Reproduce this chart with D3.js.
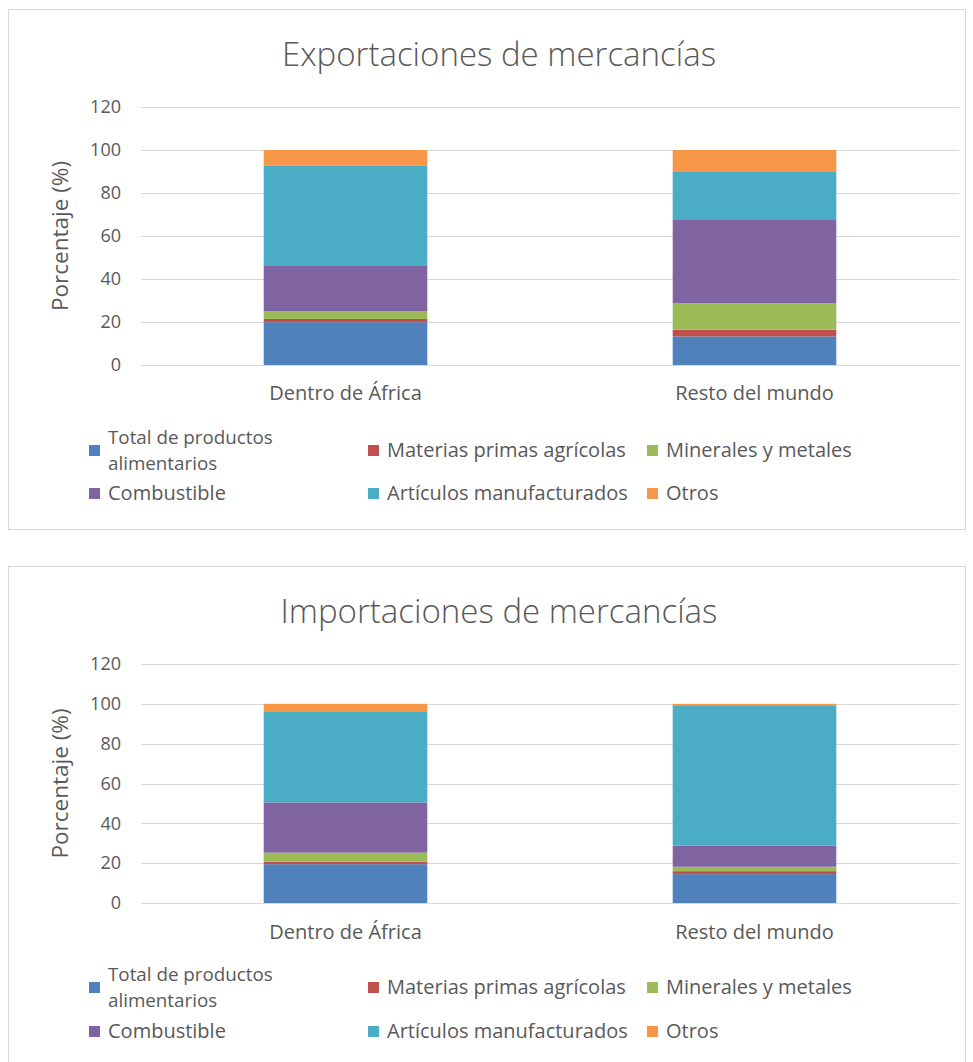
<!DOCTYPE html>
<html lang="es">
<head>
<meta charset="utf-8">
<title>Mercancías</title>
<script src="https://cdn.jsdelivr.net/npm/d3@7"></script>
<style>
  body { margin: 0; background: #fff; }
  svg text { font-family: "Open Sans", "Noto Sans", sans-serif; fill: #595959; }
</style>
</head>
<body>
<div id="chart"></div>
<script>
// categories and series
var categories = ["Dentro de África", "Resto del mundo"];
var seriesNames = ["Total de productos alimentarios", "Materias primas agrícolas", "Minerales y metales",
                   "Combustible", "Artículos manufacturados", "Otros"];
var colors = ["#4f81bd", "#c0504d", "#9bbb59", "#8064a2", "#4bacc6", "#f79646"];
var yTicks = [0, 20, 40, 60, 80, 100, 120];

// percentages per category, in series order
var exportDentro = [19.9, 1.5, 3.7, 21.3, 46.2, 7.4];
var exportResto  = [13.3, 3.1, 12.3, 39.1, 22.3, 9.9];
var importDentro = [19.5, 1.3, 4.5, 25.2, 45.8, 3.7];
var importResto  = [14.5, 1.5, 2.2, 10.6, 70.5, 0.7];

var W = 973, H = 1062;
var svg = d3.select("#chart").append("svg")
  .attr("width", W)
  .attr("height", H);

var charts = [
  {title: "Exportaciones de mercancías", rows: [exportDentro, exportResto],
   boxTop: 9, boxBottom: 529, yTop: 107, yBottom: 365, catY: 393, legY: [450, 493]},
  {title: "Importaciones de mercancías", rows: [importDentro, importResto],
   boxTop: 566, boxBottom: 1090, yTop: 664, yBottom: 903, catY: 932, legY: [987, 1031]}
];

var legendCols = [89, 368, 647];

charts.forEach(function(c) {
  var g = svg.append("g");

  g.append("rect")
    .attr("x", 8.5).attr("y", c.boxTop + 0.5)
    .attr("width", 957).attr("height", c.boxBottom - c.boxTop)
    .style("fill", "#fff")
    .style("stroke", "#d9d9d9")
    .style("stroke-width", 1);

  g.append("text")
    .attr("x", 499)
    .attr("y", c.boxTop + 45)
    .attr("dy", "0.35em")
    .attr("text-anchor", "middle")
    .style("font-size", "33px")
    .style("font-weight", 300)
    .text(c.title);

  var x = d3.scaleBand().domain(categories).range([141, 959])
    .paddingInner(0.6).paddingOuter(0.3);
  var y = d3.scaleLinear().domain([0, 120]).range([c.yBottom, c.yTop]);

  // gridlines
  g.selectAll(".grid").data(yTicks).enter().append("line")
    .attr("x1", 141).attr("x2", 959)
    .attr("y1", function(d) { return Math.round(y(d)) + 0.5; })
    .attr("y2", function(d) { return Math.round(y(d)) + 0.5; })
    .style("stroke", "#d9d9d9")
    .style("stroke-width", 1);

  var yAxis = d3.axisLeft(y).tickValues(yTicks).tickSize(0).tickPadding(0);
  var ya = g.append("g").attr("transform", "translate(121,0)").call(yAxis);
  ya.select(".domain").remove();
  ya.selectAll("text").style("font-size", "18px").style("fill", "#595959")
    .style("font-family", "'Open Sans', sans-serif");

  g.append("text")
    .attr("transform", "translate(60," + ((c.yTop + c.yBottom) / 2) + ") rotate(-90)")
    .attr("dy", "0.35em")
    .attr("text-anchor", "middle")
    .style("font-size", "22.5px")
    .text("Porcentaje (%)");

  // stacked bars
  var table = categories.map(function(cat, i) {
    var o = {cat: cat};
    seriesNames.forEach(function(s, j) { o[s] = c.rows[i][j]; });
    return o;
  });
  var stacked = d3.stack().keys(seriesNames)(table);

  g.selectAll(".layer").data(stacked).enter().append("g")
    .style("fill", function(d, i) { return colors[i]; })
    .selectAll("rect").data(function(d) { return d; }).enter().append("rect")
      .attr("x", function(d) { return x(d.data.cat); })
      .attr("width", x.bandwidth())
      .attr("y", function(d) { return y(d[1]); })
      .attr("height", function(d) { return y(d[0]) - y(d[1]); });

  g.selectAll(".cat").data(categories).enter().append("text")
    .attr("x", function(d) { return x(d) + x.bandwidth() / 2; })
    .attr("y", c.catY)
    .attr("dy", "0.35em")
    .attr("text-anchor", "middle")
    .style("font-size", "20px")
    .text(function(d) { return d; });

  // legend
  seriesNames.forEach(function(s, i) {
    var lx = legendCols[i % 3], ly = c.legY[Math.floor(i / 3)];
    g.append("rect")
      .attr("x", lx).attr("y", ly - 5)
      .attr("width", 11).attr("height", 11)
      .style("fill", colors[i]);
    if (i === 0) {
      // wrapped label, two separate lines
      [["Total de productos", -13], ["alimentarios", 13]].forEach(function(l) {
        g.append("text")
          .attr("x", lx + 19)
          .attr("y", ly + l[1])
          .attr("dy", "0.35em")
          .style("font-size", "18.8px")
          .text(l[0]);
      });
    } else {
      g.append("text")
        .attr("x", lx + 19)
        .attr("y", ly)
        .attr("dy", "0.35em")
        .style("font-size", "20px")
        .text(s);
    }
  });
});
</script>
</body>
</html>
